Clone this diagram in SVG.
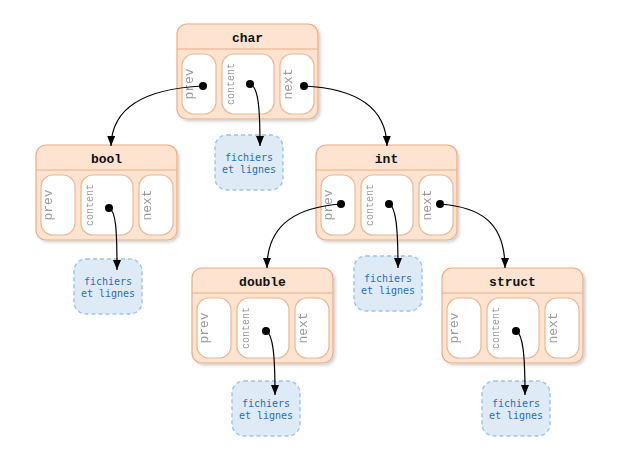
<svg xmlns="http://www.w3.org/2000/svg" width="619" height="452" viewBox="0 0 619 452">
<defs>
<filter id="sh" x="-10%" y="-10%" width="125%" height="130%">
<feDropShadow dx="2" dy="2" stdDeviation="1.5" flood-color="#000" flood-opacity="0.18"/>
</filter>
<marker id="arr" viewBox="0 0 10 8" refX="10" refY="4" markerWidth="10" markerHeight="8" markerUnits="userSpaceOnUse" orient="auto">
<path d="M0,0 L10,4 L0,8 z" fill="#000"/>
</marker>
<g id="cells">
<rect x="0" y="0" width="141" height="95" rx="10" class="box"/>
<line x1="0" y1="25" x2="141" y2="25" class="hdr"/>
<rect x="5" y="30" width="34" height="60" rx="12" class="cell"/>
<rect x="45" y="30" width="52" height="60" rx="12" class="cell"/>
<rect x="103" y="30" width="34" height="60" rx="12" class="cell"/>
<text transform="translate(16,60) rotate(-90)" class="lbl">prev</text>
<text transform="translate(57,60) rotate(-90)" class="lbl2">content</text>
<text transform="translate(115,60) rotate(-90)" class="lbl">next</text>
</g>
<g id="notebox">
<rect x="0" y="0" width="68" height="55" rx="12" class="note"/>
<text x="34" y="26" class="nt">fichiers</text>
<text x="34" y="38" class="nt">et lignes</text>
</g>
</defs>
<style>
.box{fill:#fde3d0;stroke:#e9ad88;stroke-width:1.2}
.hdr{stroke:#e9ad88;stroke-width:1.2}
.cell{fill:#fff;stroke:#eab794;stroke-width:1.2}
.lbl{font-family:"Liberation Mono",monospace;font-size:13px;fill:#9a9a9a;text-anchor:middle}
.lbl2{font-family:"Liberation Mono",monospace;font-size:10px;fill:#9a9a9a;text-anchor:middle}
.ttl{font-family:"Liberation Mono",monospace;font-size:13px;font-weight:bold;fill:#111;text-anchor:middle}
.note{fill:#deebf7;stroke:#9dc3e6;stroke-width:1.4;stroke-dasharray:4 3}
.nt{font-family:"DejaVu Sans Mono",monospace;font-size:10px;fill:#2a6db5;text-anchor:middle}
.e{fill:none;stroke:#000;stroke-width:1.2;marker-end:url(#arr)}
.dot{fill:#000}
</style>

<g id="node-char" transform="translate(177,24)">
<g filter="url(#sh)"><use href="#cells"/></g>
<text x="70.5" y="18" class="ttl">char</text>
</g>
<g id="node-bool" transform="translate(36,145)">
<g filter="url(#sh)"><use href="#cells"/></g>
<text x="70.5" y="18" class="ttl">bool</text>
</g>
<g id="node-int" transform="translate(316,145)">
<g filter="url(#sh)"><use href="#cells"/></g>
<text x="70.5" y="18" class="ttl">int</text>
</g>
<g id="node-double" transform="translate(192,268)">
<g filter="url(#sh)"><use href="#cells"/></g>
<text x="70.5" y="18" class="ttl">double</text>
</g>
<g id="node-struct" transform="translate(442,268)">
<g filter="url(#sh)"><use href="#cells"/></g>
<text x="70.5" y="18" class="ttl">struct</text>
</g>

<g id="note-char" transform="translate(215,135)"><use href="#notebox"/></g>
<g id="note-bool" transform="translate(74,259)"><use href="#notebox"/></g>
<g id="note-int" transform="translate(354,256)"><use href="#notebox"/></g>
<g id="note-double" transform="translate(232,381)"><use href="#notebox"/></g>
<g id="note-struct" transform="translate(482,381)"><use href="#notebox"/></g>

<g id="connectors">
<path class="e" d="M203,86 C160,88 112,100 111,146"/>
<path class="e" d="M304,86 C345,88 386,100 387,146"/>
<path class="e" d="M341,204 C300,207 267,222 267,268"/>
<path class="e" d="M440,204 C480,207 505,222 505,268"/>
<path class="e" d="M250,84 C258,87 260,105 260,146"/>
<path class="e" d="M109,208 C116,211 117,230 117,270"/>
<path class="e" d="M389,204 C396,207 398,228 398,268"/>
<path class="e" d="M266,331 C273,334 275,355 275,395"/>
<path class="e" d="M516,331 C523,334 525,355 525,395"/>
<circle class="dot" cx="203" cy="86" r="4"/>
<circle class="dot" cx="304" cy="86" r="4"/>
<circle class="dot" cx="250" cy="84" r="4"/>
<circle class="dot" cx="109" cy="208" r="4"/>
<circle class="dot" cx="341" cy="204" r="4"/>
<circle class="dot" cx="389" cy="204" r="4"/>
<circle class="dot" cx="440" cy="204" r="4"/>
<circle class="dot" cx="266" cy="331" r="4"/>
<circle class="dot" cx="516" cy="331" r="4"/>
</g>
</svg>
